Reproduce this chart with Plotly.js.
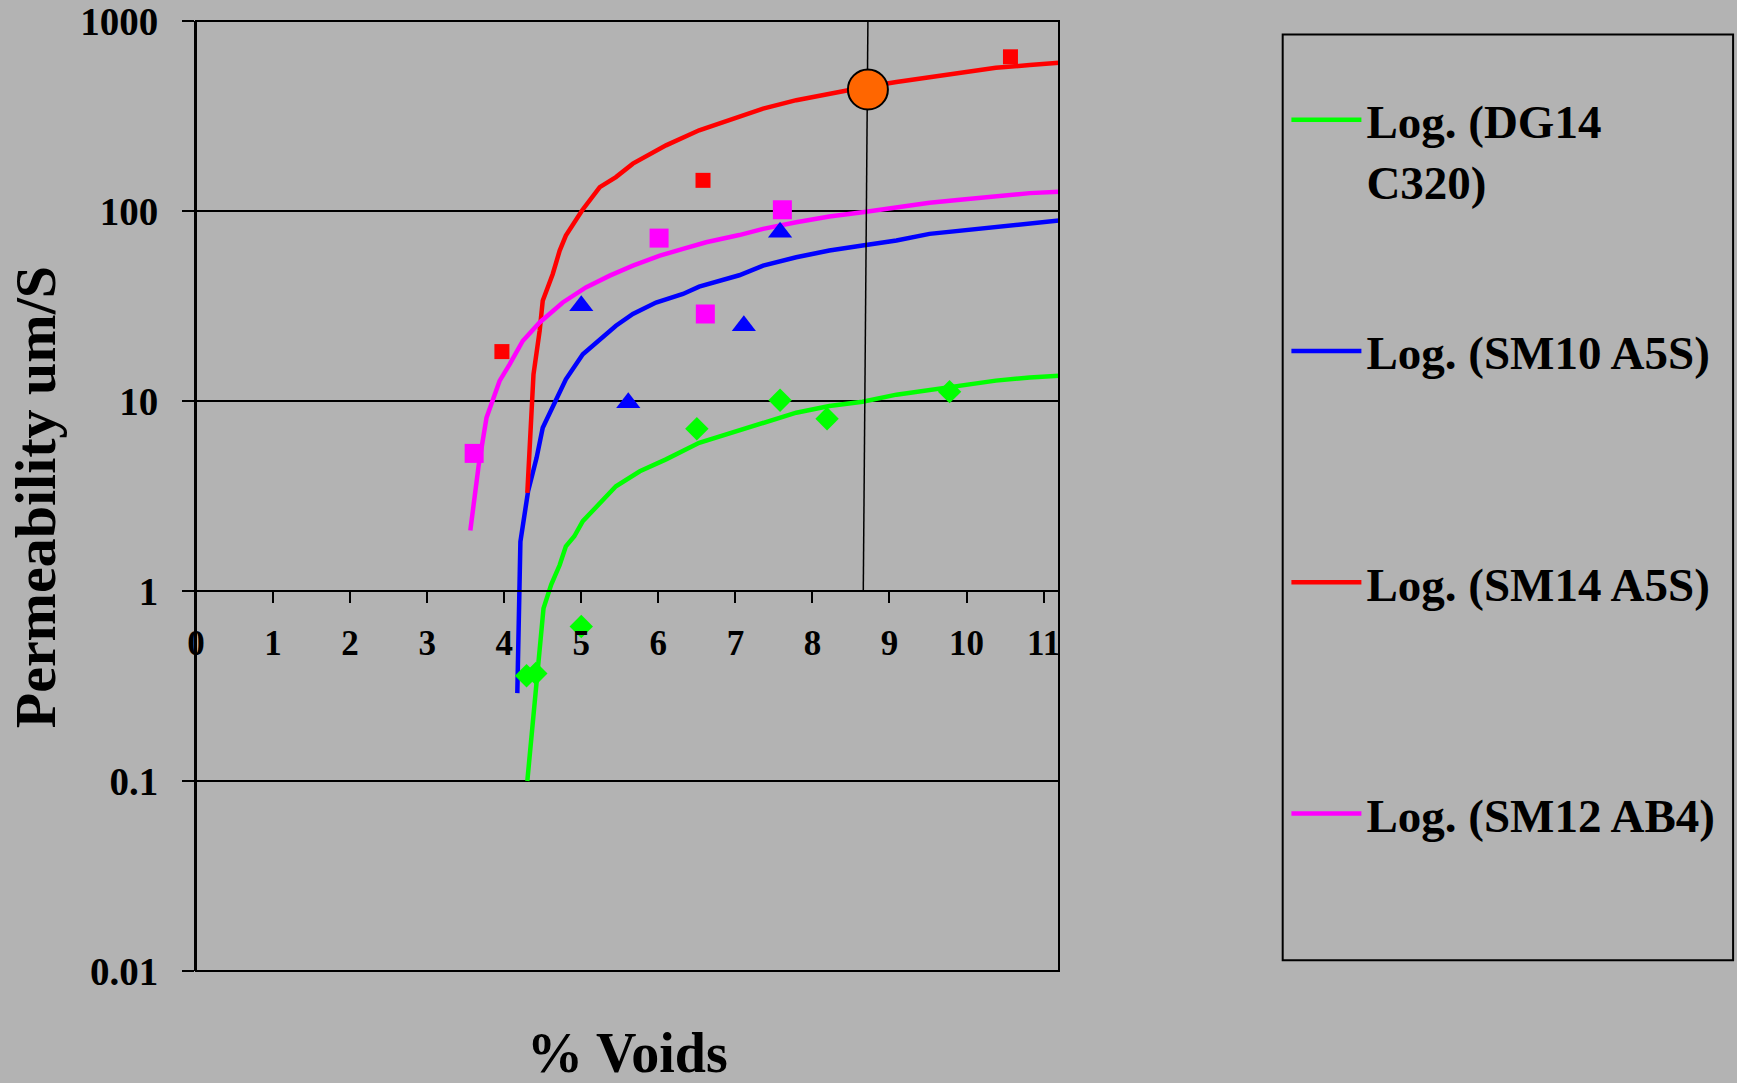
<!DOCTYPE html>
<html><head><meta charset="utf-8">
<script src="https://cdn.plot.ly/plotly-3.0.1.min.js"></script>
<style>html,body{margin:0;padding:0;background:#b3b3b3;overflow:hidden;width:1737px;height:1083px;}</style>
</head><body><div id="chart" style="width:1737px;height:1083px;overflow:hidden;"></div>
<script>
// ---- data ----
const trendNames = ['Log. (DG14<br>C320)', 'Log. (SM10 A5S)<br> ', 'Log. (SM14 A5S)<br> ', 'Log. (SM12 AB4)<br> '];
const seriesColors = ['#00ff00', '#0000ff', '#ff0000', '#ff00ff'];

// Log. (DG14 C320) trendline
const dgTrendX = [4.30, 4.43, 4.51, 4.61, 4.72, 4.80, 4.91, 5.02, 5.24, 5.45, 5.76, 6.10, 6.53, 7.05, 7.36, 7.79, 8.22, 8.65, 9.09, 9.52, 9.95, 10.38, 10.82, 11.2];
const dgTrendY = [0.1, 0.36, 0.81, 1.08, 1.37, 1.72, 1.94, 2.33, 2.91, 3.56, 4.27, 4.93, 6.03, 7.00, 7.69, 8.68, 9.41, 9.92, 10.8, 11.4, 12.1, 12.8, 13.3, 13.6];
// Log. (SM10 A5S) trendline
const sm10TrendX = [4.17, 4.21, 4.31, 4.42, 4.50, 4.65, 4.80, 5.02, 5.24, 5.45, 5.67, 5.97, 6.32, 6.53, 7.05, 7.36, 7.79, 8.22, 8.65, 9.09, 9.52, 9.95, 10.38, 10.82, 11.2];
const sm10TrendY = [0.29, 1.82, 3.35, 5.02, 7.23, 9.80, 13.0, 17.6, 21.2, 24.9, 28.7, 33.0, 36.6, 40.0, 45.9, 51.6, 57.1, 61.9, 65.8, 69.9, 75.8, 78.9, 82.8, 86.2, 89.1];
// Log. (SM14 A5S) trendline
const sm14TrendX = [4.30, 4.38, 4.46, 4.50, 4.63, 4.72, 4.80, 5.01, 5.24, 5.45, 5.67, 6.10, 6.53, 6.97, 7.36, 7.79, 8.22, 8.65, 9.09, 9.52, 9.95, 10.38, 10.82, 11.2];
const sm14TrendY = [3.28, 13.8, 23.4, 33.7, 46.6, 61.9, 74.2, 100.6, 133.5, 150.8, 177.5, 221.6, 265.9, 306.6, 346, 383, 415, 447, 478, 508, 540, 567, 586, 603];
// Log. (SM12 AB4) trendline
const sm12TrendX = [3.56, 3.67, 3.77, 3.94, 4.07, 4.24, 4.46, 4.76, 5.06, 5.37, 5.67, 6.02, 6.32, 6.62, 7.05, 7.36, 7.79, 8.22, 8.65, 9.09, 9.52, 9.95, 10.38, 10.82, 11.2];
const sm12TrendY = [2.08, 4.63, 8.16, 12.75, 15.6, 20.7, 25.9, 33.0, 39.6, 45.7, 51.6, 58.2, 63.2, 68.5, 74.7, 80.5, 87.3, 93.5, 98.6, 104.7, 110.5, 115, 119.3, 124.2, 126.3];

// measured points
const dgX = [4.29, 4.41, 5.00, 6.50, 7.58, 8.19, 9.78];
const dgY = [0.358, 0.368, 0.65, 7.14, 10.1, 8.06, 11.2];
const sm10X = [5.00, 5.61, 7.11, 7.58];
const sm10Y = [31.7, 9.8, 24.9, 77.3];
const sm14X = [3.97, 6.58, 10.57];
const sm14Y = [18.2, 145, 648];
const sm12X = [3.61, 6.01, 6.61, 7.61];
const sm12Y = [5.3, 72, 28.7, 101.5];

// highlighted point and its guide line
const highlightX = [8.72];
const highlightY = [436];
const guideX = [8.66, 8.72];
const guideY = [1, 1000];

// axes
const xTickVals = [0, 1, 2, 3, 4, 5, 6, 7, 8, 9, 10, 11];
const yTickVals = [0.01, 0.1, 1, 10, 100, 1000];
const yTickText = ['0.01', '0.1', '1', '10', '100', '1000'];
const xTitle = '% Voids';
const yTitle = 'Permeability um/S';

// ---- chart ----
const FONT = "'Liberation Serif', 'Times New Roman', serif";
const trendX = [dgTrendX, sm10TrendX, sm14TrendX, sm12TrendX];
const trendY = [dgTrendY, sm10TrendY, sm14TrendY, sm12TrendY];
const traces = [];
for (let i = 0; i < 4; i++) {
  traces.push({
    type: 'scatter', mode: 'lines', x: trendX[i], y: trendY[i], name: trendNames[i],
    legendgroup: 'g' + i, line: {color: seriesColors[i], width: 4.5}, hoverinfo: 'skip'
  });
}
const markerSets = [
  {x: dgX, y: dgY, symbol: 'diamond', size: 18, c: 0},
  {x: sm10X, y: sm10Y, symbol: 'triangle-up', size: 21, c: 1},
  {x: sm14X, y: sm14Y, symbol: 'square', size: 15, c: 2},
  {x: sm12X, y: sm12Y, symbol: 'square', size: 19, c: 3}
];
markerSets.forEach(m => traces.push({
  type: 'scatter', mode: 'markers', x: m.x, y: m.y, showlegend: false,
  marker: {symbol: m.symbol, size: m.size, color: seriesColors[m.c], line: {width: 0}}
}));
traces.push({type: 'scatter', mode: 'lines', x: guideX, y: guideY, showlegend: false,
  line: {color: '#000000', width: 1.5}, cliponaxis: false});
traces.push({type: 'scatter', mode: 'markers', x: highlightX, y: highlightY, showlegend: false,
  marker: {symbol: 'circle', size: 40, color: '#ff6600', line: {color: '#000000', width: 2}}});

const layout = {
  width: 1737, height: 1083,
  margin: {l: 196, r: 678, t: 21, b: 112, pad: 0},
  paper_bgcolor: '#b3b3b3', plot_bgcolor: '#b3b3b3',
  font: {family: FONT, color: '#000000'},
  showlegend: true,
  xaxis: {
    range: [0, 11.2], anchor: 'free', position: 0.4,
    tickmode: 'array', tickvals: xTickVals,
    showgrid: false, zeroline: false,
    showline: true, linecolor: '#000000', linewidth: 2,
    ticks: 'outside', ticklen: 11, tickwidth: 2, tickcolor: '#000000',
    ticklabelstandoff: 10, ticklabeloverflow: 'allow',
    tickfont: {family: FONT, size: 35, weight: 'bold', color: '#000000'}
  },
  yaxis: {
    type: 'log', range: [-2, 3],
    tickmode: 'array', tickvals: yTickVals, ticktext: yTickText,
    showgrid: true, gridcolor: '#000000', gridwidth: 2,
    zeroline: false, showline: true, linecolor: '#000000', linewidth: 2,
    ticks: 'outside', ticklen: 12, tickwidth: 2, tickcolor: '#000000',
    ticklabelstandoff: 16, ticklabeloverflow: 'allow',
    tickfont: {family: FONT, size: 39, weight: 'bold', color: '#000000'}
  },
  legend: {
    x: 1.2635, y: 0.935, xanchor: 'left', yanchor: 'top',
    bgcolor: 'rgba(0,0,0,0)', borderwidth: 0,
    traceorder: 'grouped', tracegroupgap: 106, valign: 'top', itemwidth: 70,
    font: {family: FONT, size: 47, weight: 'bold', color: '#000000'}
  },
  shapes: [
    {type: 'rect', xref: 'paper', yref: 'paper', x0: 0, x1: 1, y0: 0, y1: 1,
     line: {color: '#000000', width: 2}, layer: 'above'},
    {type: 'rect', xref: 'paper', yref: 'paper', x0: 1.2592, x1: 1.7811, y0: 0.0113, y1: 0.9858,
     line: {color: '#000000', width: 2}}
  ],
  annotations: [
    {text: xTitle, xref: 'paper', yref: 'paper', x: 0.4997, y: -0.086, xanchor: 'center', yanchor: 'middle',
     showarrow: false, font: {family: FONT, size: 56, weight: 'bold', color: '#000000'}},
    {text: yTitle, xref: 'paper', yref: 'paper', x: -0.185, y: 0.499, xanchor: 'center', yanchor: 'middle',
     textangle: -90, showarrow: false, font: {family: FONT, size: 58, weight: 'bold', color: '#000000'}}
  ]
};
Plotly.newPlot('chart', traces, layout, {displayModeBar: false, staticPlot: true});
</script>
</body></html>
